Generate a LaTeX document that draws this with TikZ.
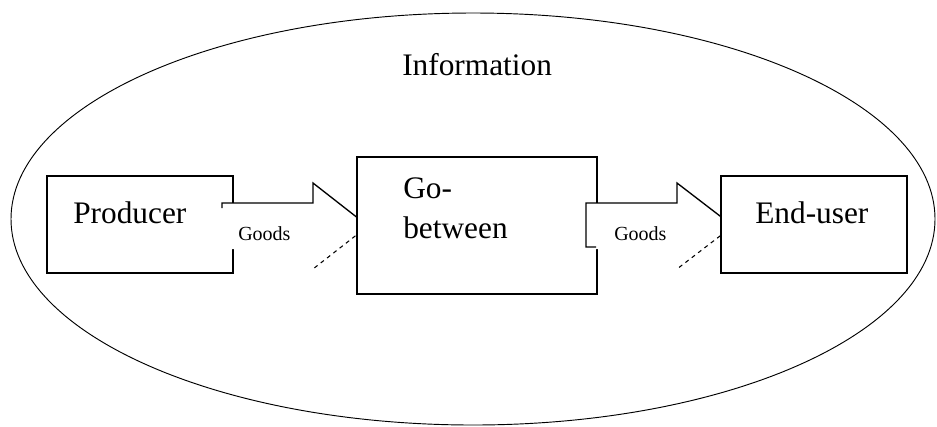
\documentclass[tikz,border=0pt]{standalone}
\usepackage{fontspec}
\setmainfont{Liberation Serif}
\usetikzlibrary{positioning}

\tikzset{
  box/.style={draw, line width=1pt, fill=white, inner sep=0pt},
  bigtext/.style={inner sep=0pt, anchor=base west, font=\fontsize{23.5}{30}\selectfont},
  smalltext/.style={inner sep=0pt, anchor=base west, font=\fontsize{15}{18}\selectfont},
}

\begin{document}
\begin{tikzpicture}[x=0.75pt,y=0.75pt,yscale=-1,xscale=1]
\useasboundingbox (0,0) rectangle (937,426);

%Shape: Ellipse
\draw[line width=0.7pt] (473,219) ellipse (462 and 206);

%Shape: Rectangle
\node[box, minimum width=139.5pt, minimum height=72.75pt] (producer) at (140,224.5) {};

%Shape: Right Arrow
\fill[white] (222,203) -- (313,203) -- (313,183) -- (368,226) -- (313,269) -- (313,249) -- (222,249) -- cycle;
\draw[line width=1pt] (222,208) -- (222,203) -- (313,203) -- (313,183) -- (368,226);
\draw[line width=0.8pt, dashed] (368,226) -- (313,269);

%Shape: Rectangle
\node[box, minimum width=180pt, minimum height=102.75pt] (gobetween) at (477,225.5) {};

%Shape: Right Arrow
\fill[white] (586,203) -- (677,203) -- (677,183) -- (733,226) -- (677,269) -- (677,249) -- (586,249) -- cycle;
\draw[line width=1pt] (596,247) -- (586,247) -- (586,203) -- (677,203) -- (677,183) -- (733,226);
\draw[line width=0.8pt, dashed] (733,226) -- (677,269);

%Shape: Rectangle
\node[box, minimum width=139.5pt, minimum height=72.75pt] (enduser) at (814,224.5) {};

% Text Node
\node[bigtext] (info) at (402,75) {Information};
% Text Node
\node[bigtext] (producerlbl) at (73,223) {Producer};
% Text Node
\node[bigtext] (golbl) at (403,198) {Go-};
% Text Node
\node[bigtext] (betweenlbl) at (403,238) {between};
% Text Node
\node[bigtext] (enduserlbl) at (755,223) {End-user};
% Text Node
\node[smalltext] (goodsa) at (238,240) {Goods};
% Text Node
\node[smalltext] (goodsb) at (614,240) {Goods};

\end{tikzpicture}
\end{document}
